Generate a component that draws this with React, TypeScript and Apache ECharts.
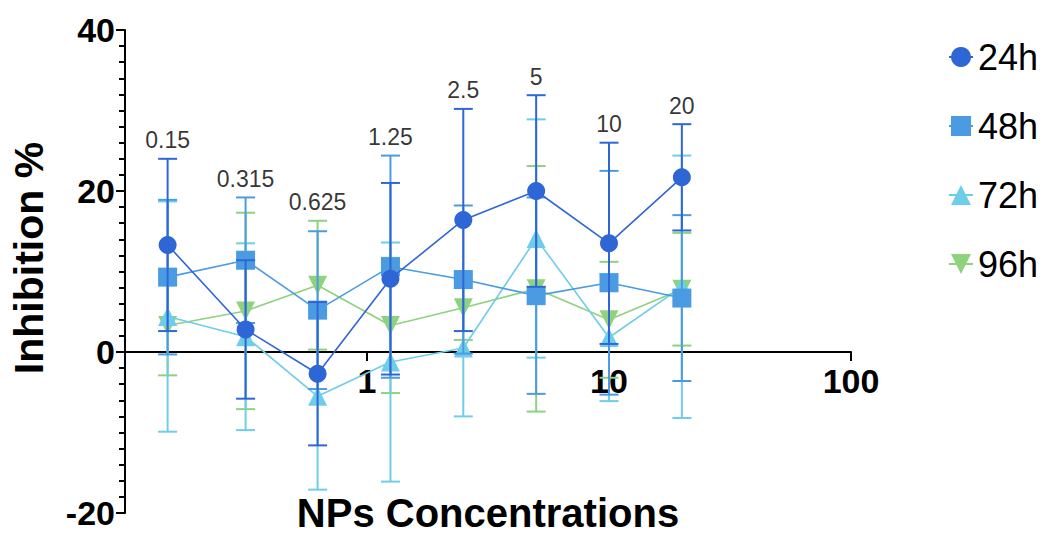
import React, { useEffect, useRef } from "react";
import * as echarts from "echarts";

// ---- data ----
const concentrations = [0.15, 0.315, 0.625, 1.25, 2.5, 5, 10, 20];
const concentrationLabels = ["0.15", "0.315", "0.625", "1.25", "2.5", "5", "10", "20"];

const seriesNames = ["24h", "48h", "72h", "96h"];

const mean24h = [13.3, 2.8, -2.7, 9.1, 16.4, 20.0, 13.5, 21.7];
const err24h = [10.7, 8.6, 8.9, 11.9, 13.8, 11.9, 12.5, 6.6];

const mean48h = [9.3, 11.4, 5.2, 10.6, 9.0, 7.0, 8.6, 6.7];
const err48h = [9.6, 7.8, 9.8, 13.8, 9.2, 12.2, 13.9, 10.3];

const mean72h = [4.4, 1.9, -5.5, -1.25, 0.5, 14.1, 1.8, 8.1];
const err72h = [14.3, 11.6, 11.6, 14.85, 8.5, 14.8, 7.9, 16.3];

const mean96h = [3.3, 5.1, 8.3, 3.3, 5.5, 7.85, 4.0, 7.8];
const err96h = [6.2, 12.2, 8.0, 8.4, 4.0, 15.25, 7.2, 7.0];

const yMin = -20;
const yMax = 40;
const yInterval = 20;
const xMin = 0.1;
const xMax = 100;
const xTickLabels = ["1", "10", "100"];

// ---- styles ----
const FONT = "'Liberation Sans', Arial, Helvetica, sans-serif";
const colors = ["#2f66d6", "#4b9be3", "#6ecde9", "#8fd27e"];
const symbols = ["circle", "rect", "triangle", "triangle"];
const symbolRotates = [0, 0, 0, 180];
const symbolSizes = [18, 19, 19, 19];

const means = [mean24h, mean48h, mean72h, mean96h];
const errs = [err24h, err48h, err72h, err96h];

const W = 1051;
const H = 536;
const G_LEFT = 125;
const G_RIGHT = 200;
const G_TOP = 30;
const G_BOTTOM = 23;

export default function App() {
  const ref = useRef<HTMLDivElement>(null);

  useEffect(() => {
    if (!ref.current) return;
    const chart = echarts.init(ref.current, null, { renderer: "svg" });

    const tops = concentrations.map((_, i) =>
      Math.max(...means.map((m, k) => m[i] + errs[k][i]))
    );

    // pixel row of y = 0 inside the main grid, so the x-axis grid ends there
    const plotH = H - G_TOP - G_BOTTOM;
    const zeroY = G_TOP + plotH * (yMax - 0) / (yMax - yMin);

    // draw order bottom -> top : 96h, 72h, 48h, 24h
    const order = [3, 2, 1, 0];
    const series: any[] = [];
    order.forEach((k, idx) => {
      const color = colors[k];
      series.push({
        name: seriesNames[k] + " err",
        type: "custom",
        z: 2 + idx * 2,
        silent: true,
        data: concentrations.map((c, i) => [c, means[k][i] - errs[k][i], means[k][i] + errs[k][i]]),
        encode: { x: 0, y: [1, 2] },
        renderItem: (params: any, api: any) => {
          const x = api.value(0);
          const lo = api.coord([x, api.value(1)]);
          const hi = api.coord([x, api.value(2)]);
          const hw = 9.5;
          const st = { stroke: color, lineWidth: 2 };
          return {
            type: "group",
            children: [
              { type: "line", shape: { x1: lo[0], y1: lo[1], x2: hi[0], y2: hi[1] }, style: st },
              { type: "line", shape: { x1: lo[0] - hw, y1: lo[1], x2: lo[0] + hw, y2: lo[1] }, style: st },
              { type: "line", shape: { x1: hi[0] - hw, y1: hi[1], x2: hi[0] + hw, y2: hi[1] }, style: st },
            ],
          };
        },
      });
      series.push({
        name: seriesNames[k],
        type: "line",
        z: 3 + idx * 2,
        data: concentrations.map((c, i) => [c, means[k][i]]),
        symbol: symbols[k],
        symbolRotate: symbolRotates[k],
        symbolSize: symbolSizes[k],
        itemStyle: { color },
        lineStyle: { color, width: 1.6 },
      });
    });

    series.push({
      name: "labels",
      type: "scatter",
      z: 20,
      silent: true,
      symbolSize: 0,
      data: concentrations.map((c, i) => [c, tops[i]]),
      label: {
        show: true,
        position: "top",
        distance: 7,
        formatter: (p: any) => concentrationLabels[p.dataIndex],
        fontSize: 23,
        fontFamily: FONT,
        color: "#000",
      },
    });

    const labelStyle = {
      fontSize: 34,
      fontWeight: "bold",
      fontFamily: FONT,
      color: "#000",
    };

    chart.setOption({
      animation: false,
      backgroundColor: "#fff",
      grid: [
        { left: G_LEFT, right: G_RIGHT, top: G_TOP, bottom: G_BOTTOM, containLabel: false, outerBoundsMode: "none" },
        { left: G_LEFT, right: G_RIGHT, top: G_TOP, bottom: H - zeroY, containLabel: false, outerBoundsMode: "none" },
      ],
      legend: {
        data: seriesNames.map((n) => ({ name: n })),
        orient: "vertical",
        left: 943,
        top: 34,
        itemWidth: 24,
        itemHeight: 25,
        itemGap: 33,
        textStyle: { fontSize: 36, fontFamily: FONT, color: "#000" },
        selectedMode: false,
      },
      xAxis: [
        {
          gridIndex: 0,
          type: "log",
          logBase: 10,
          min: xMin,
          max: xMax,
          show: false,
        },
        {
          gridIndex: 1,
          type: "log",
          logBase: 10,
          min: xMin,
          max: xMax,
          position: "bottom",
          axisLine: { show: true, onZero: false, lineStyle: { color: "#000", width: 2 } },
          axisTick: { show: true, length: 9, lineStyle: { color: "#000", width: 2 } },
          minorTick: { show: false },
          splitLine: { show: false },
          axisLabel: {
            ...labelStyle,
            margin: 12,
            formatter: (v: number) => {
              const s = String(Math.round(v * 1000) / 1000);
              return xTickLabels.includes(s) ? s : "";
            },
          },
        },
      ],
      yAxis: [
        {
          gridIndex: 0,
          type: "value",
          min: yMin,
          max: yMax,
          interval: yInterval,
          axisLine: { show: true, onZero: false, lineStyle: { color: "#000", width: 2 } },
          axisTick: { show: true, length: 9, lineStyle: { color: "#000", width: 2 } },
          minorTick: { show: true, splitNumber: 10, length: 6, lineStyle: { color: "#000", width: 2 } },
          splitLine: { show: false },
          axisLabel: { ...labelStyle, margin: 10 },
        },
        {
          gridIndex: 1,
          type: "value",
          min: 0,
          max: 1,
          show: false,
        },
      ],
      graphic: [
        {
          type: "text",
          x: 29,
          y: 258,
          rotation: Math.PI / 2,
          style: {
            text: "Inhibition %",
            fontSize: 41,
            fontWeight: "bold",
            fontFamily: FONT,
            fill: "#000",
            textAlign: "center",
            textVerticalAlign: "middle",
          },
        },
        {
          type: "text",
          x: 488,
          y: 513,
          style: {
            text: "NPs Concentrations",
            fontSize: 40,
            fontWeight: "bold",
            fontFamily: FONT,
            fill: "#000",
            textAlign: "center",
            textVerticalAlign: "middle",
          },
        },
      ],
      series,
    });

    return () => chart.dispose();
  }, []);

  return (
    <div
      ref={ref}
      style={{ position: "absolute", left: 0, top: 0, width: W, height: H }}
    />
  );
}
